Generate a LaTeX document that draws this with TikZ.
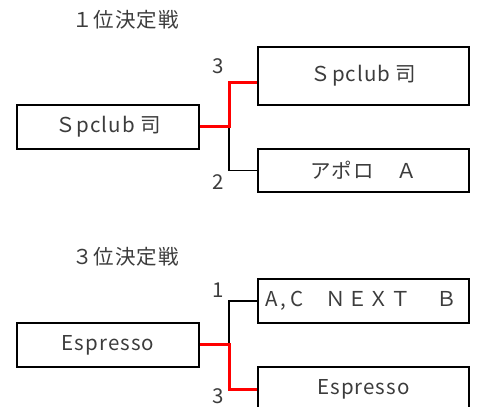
\documentclass[tikz,border=0pt]{standalone}
\usepackage{fontspec}
\setmainfont{Noto Sans CJK JP}[LetterSpace=5]
\definecolor{txt}{RGB}{60,60,60}
\definecolor{win}{RGB}{255,0,0}
\begin{document}
\begin{tikzpicture}[x=1pt,y=-1pt,
  every node/.style={font=\fontsize{20.5}{24}\selectfont, text=txt},
  team/.style={draw=black, line width=1.5pt, rectangle, minimum width=182pt, minimum height=44pt, inner sep=0pt},
  teamR/.style={draw=black, line width=1.5pt, rectangle, minimum width=211pt, minimum height=44pt, inner sep=0pt},
  title/.style={anchor=west, inner sep=0pt},
  score/.style={inner sep=0pt},
  winline/.style={draw=win, line width=3pt},
  loseline/.style={draw=black, line width=1.5pt}]
\useasboundingbox (0,0) rectangle (477,407);

% ---- 1st place match ----
\node[title] (h1) at (72,20) {１位決定戦};
\node[team] (L1) at (108,127) {Ｓpclub 司};
\node[teamR, minimum height=58pt] (T1) at (363.5,76) {Ｓpclub 司};
\node[teamR, minimum height=43pt] (B1) at (363.5,170.5) {アポロ　Ａ};
\coordinate (j1) at (229,126);
\node[score] (s1a) at (218,66) {3};
\node[score] (s1b) at (218,182) {2};
\draw[loseline] (j1) |- (B1.west);
\draw[winline] (L1.east |- j1) -- (j1) |- ([yshift=-6pt]T1.west);

% ---- 3rd place match ----
\node[title] (h2) at (72,257) {３位決定戦};
\node[team] (L2) at (108,345) {Espresso};
\node[teamR, text width=197pt, align=left, inner xsep=7pt] (T2) at (363.5,301) {A\hspace{3pt},\hspace{4pt}C　ＮＥＸＴ\hspace{4pt}　Ｂ};
\node[teamR] (B2) at (363.5,389) {Espresso};
\coordinate (j2) at (229,344);
\node[score] (s2a) at (218,290) {1};
\node[score] (s2b) at (218,396) {3};
\draw[loseline] (j2) |- (T2.west);
\draw[winline] (L2.east |- j2) -- (j2) |- (B2.west);
\end{tikzpicture}
\end{document}
